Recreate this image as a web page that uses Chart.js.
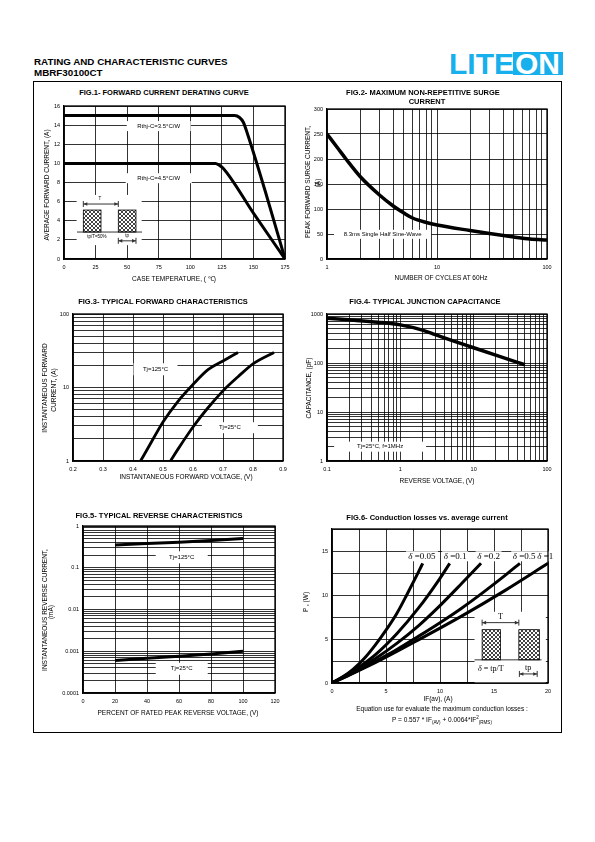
<!DOCTYPE html>
<html>
<head>
<meta charset="utf-8">
<script src="https://cdn.jsdelivr.net/npm/chart.js@4.4.0/dist/chart.umd.min.js"></script>
<style>
body { margin: 0; width: 595px; height: 842px; position: relative; background: #fff; color: #000;
       font-family: "Liberation Sans", Arial, sans-serif; overflow: hidden; }
.abs { position: absolute; white-space: nowrap; }
sub, sup { font-size: 70%; line-height: 0; }
</style>
</head>
<body>
<div class="abs" style="left:33px;top:81px;width:527px;height:650px;border:1.5px solid #000"></div>
<div class="abs" style="left:449px;top:49px;font:bold 30px 'Liberation Sans',Arial;line-height:30px;color:#18b0ec">LITE</div>
<div class="abs" style="left:513px;top:52px;width:50px;height:23px;background:#18b0ec"></div>
<div class="abs" style="left:515px;top:49px;font:bold 30px 'Liberation Sans',Arial;line-height:30px;color:#fff">ON</div>
<script>
// ---- FIG.1 forward current derating ----
var fig1XTicks = [0, 25, 50, 75, 100, 125, 150, 175];
var fig1YTicks = [0, 2, 4, 6, 8, 10, 12, 14, 16];
var fig1Temp35 = [0, 135, 139, 142, 145, 160, 175];
var fig1Amp35 = [15, 15, 14.8, 14.3, 13.2, 6.8, 0];
var fig1Temp45 = [0, 120, 123, 126, 150, 175];
var fig1Amp45 = [10, 10, 9.8, 9.5, 4.8, 0];

// ---- FIG.2 surge current ----
var fig2XTicks = [1, 10, 100];
var fig2YTicks = [0, 50, 100, 150, 200, 250, 300];
var fig2Cycles = [1, 1.25, 1.5, 2, 3, 4, 5, 6, 8, 10, 20, 30, 50, 70, 100];
var fig2Surge = [250, 222, 199, 165, 128, 106, 92, 82, 73, 68, 57, 51, 44, 40, 38];

// ---- FIG.3 forward characteristics ----
var fig3XTicks = [0.2, 0.3, 0.4, 0.5, 0.6, 0.7, 0.8, 0.9];
var fig3YTicks = [1, 10, 100];
var fig3VoltHot = [0.425, 0.45, 0.5, 0.55, 0.6, 0.65, 0.7, 0.75];
var fig3AmpHot = [1, 1.5, 3.4, 6.5, 11, 17.5, 23, 30];
var fig3VoltCold = [0.525, 0.55, 0.6, 0.65, 0.7, 0.75, 0.8, 0.87];
var fig3AmpCold = [1, 1.45, 2.9, 5.3, 9, 14, 21, 30];

// ---- FIG.4 junction capacitance ----
var fig4XTicks = [0.1, 1, 10, 100];
var fig4YTicks = [1, 10, 100, 1000];
var fig4Volt = [0.1, 0.2, 0.5, 1, 2, 3, 5, 10, 20, 50];
var fig4Cap = [820, 760, 680, 600, 470, 380, 290, 205, 145, 92];

// ---- FIG.5 reverse characteristics ----
var fig5XTicks = [0, 20, 40, 60, 80, 100, 120];
var fig5YTicks = [0.0001, 0.001, 0.01, 0.1, 1];
var fig5YLabels = ['0.0001', '0.001', '0.01', '0.1', '1'];
var fig5Pct = [20, 40, 60, 80, 100];
var fig5Hot = [0.35, 0.38, 0.41, 0.45, 0.5];
var fig5Cold = [0.0006, 0.00068, 0.00076, 0.00086, 0.001];

// ---- FIG.6 conduction losses ----
var fig6XTicks = [0, 5, 10, 15, 20];
var fig6XGrid = [0, 2.5, 5, 7.5, 10, 12.5, 15, 17.5, 20];
var fig6YTicks = [0, 5, 10, 15];
var fig6YGrid = [0, 2.5, 5, 7.5, 10, 12.5, 15, 17.5];
var fig6Amp005 = [0, 1, 2, 3, 4, 5, 6, 7, 8, 8.4];
var fig6P005 = [0, 0.7, 1.6, 2.8, 4.3, 6.0, 7.9, 10.2, 12.6, 13.6];
var fig6Amp01 = [0, 2, 4, 6, 8, 10, 10.9];
var fig6P01 = [0, 1.4, 3.2, 5.6, 8.5, 11.9, 13.6];
var fig6Amp02 = [0, 2, 4, 6, 8, 10, 12, 13.8];
var fig6P02 = [0, 1.25, 2.75, 4.5, 6.5, 8.8, 11.3, 13.6];
var fig6Amp05 = [0, 2, 4, 6, 8, 10, 12, 14, 16, 17.4];
var fig6P05 = [0, 1.15, 2.45, 3.8, 5.3, 6.85, 8.5, 10.3, 12.2, 13.6];
var fig6Amp1 = [0, 4, 8, 12, 16, 20];
var fig6P1 = [0, 2.3, 4.9, 7.6, 10.5, 13.6];

var FONT = '"Liberation Sans", Arial, sans-serif';
var SERIF = '"Liberation Serif", "Times New Roman", serif';
Chart.defaults.font.family = FONT;
Chart.defaults.color = '#000';

var ML = 40, MT = 8, MR = 14, MB = 18;

function pairs(xs, ys) {
  return xs.map(function (x, i) { return { x: x, y: ys[i] }; });
}

function logGrid(min, max) {
  var out = [];
  for (var d = Math.round(Math.log10(min)); d < Math.round(Math.log10(max)); d++) {
    for (var m = 1; m < 10; m++) out.push(m * Math.pow(10, d));
  }
  out.push(max);
  return out;
}

function near(a, b) { return Math.abs(a - b) <= Math.abs(b) * 1e-6 + 1e-12; }

function axis(pos, o) {
  var horiz = pos === 'x';
  var labels = o.labels || o.major.map(String);
  return {
    type: o.log ? 'logarithmic' : 'linear',
    position: horiz ? 'bottom' : 'left',
    min: o.min, max: o.max,
    afterBuildTicks: function (s) { s.ticks = o.grid.map(function (v) { return { value: v }; }); },
    afterFit: function (s) { if (horiz) s.height = MB; else s.width = ML; },
    ticks: {
      autoSkip: false, maxRotation: 0, minRotation: 0,
      padding: horiz ? 5 : 4,
      color: '#000', font: { family: FONT, size: 5.5 },
      callback: function (v) {
        for (var i = 0; i < o.major.length; i++) if (near(v, o.major[i])) return labels[i];
        return '';
      }
    },
    grid: { color: '#000', lineWidth: 0.8, drawTicks: false },
    border: { color: '#000', width: 1.2 }
  };
}

function line(data, w, smooth) {
  return {
    data: data, showLine: true, borderColor: '#000', borderWidth: w,
    pointRadius: 0, fill: false,
    cubicInterpolationMode: smooth ? 'monotone' : 'default', tension: 0
  };
}

var hatchCanvas = document.createElement('canvas');
hatchCanvas.width = hatchCanvas.height = 4;
(function () {
  var p = hatchCanvas.getContext('2d');
  p.fillStyle = '#fff'; p.fillRect(0, 0, 4, 4);
  p.fillStyle = '#444';
  for (var i = 0; i < 4; i++) { p.fillRect(i, i, 1, 1); p.fillRect(3 - i, i, 1, 1); }
})();

function arrowH(ctx, x0, x1, y, tick) {
  ctx.beginPath(); ctx.moveTo(x0, y); ctx.lineTo(x1, y);
  ctx.moveTo(x0, y - tick); ctx.lineTo(x0, y + tick);
  ctx.moveTo(x1, y - tick); ctx.lineTo(x1, y + tick); ctx.stroke();
  ctx.beginPath(); ctx.moveTo(x0, y); ctx.lineTo(x0 + 4, y - 1.8); ctx.lineTo(x0 + 4, y + 1.8); ctx.closePath(); ctx.fill();
  ctx.beginPath(); ctx.moveTo(x1, y); ctx.lineTo(x1 - 4, y - 1.8); ctx.lineTo(x1 - 4, y + 1.8); ctx.closePath(); ctx.fill();
}

function deltaText(ctx, text, x, y, size) {
  // italic delta followed by upright text, centred on x
  ctx.font = 'italic ' + size + 'px ' + SERIF;
  var wd = ctx.measureText('\u03b4').width;
  ctx.font = size + 'px ' + SERIF;
  var wr = ctx.measureText(text).width;
  var x0 = x - (wd + wr) / 2;
  ctx.textAlign = 'left';
  ctx.font = 'italic ' + size + 'px ' + SERIF;
  ctx.fillText('\u03b4', x0, y);
  ctx.font = size + 'px ' + SERIF;
  ctx.fillText(text, x0 + wd, y);
  return wd + wr;
}

function drawInset(chart, s) {
  var ctx = chart.ctx, xs = chart.scales.x, ys = chart.scales.y;
  var X = function (v) { return xs.getPixelForValue(v); };
  var Y = function (v) { return ys.getPixelForValue(v); };
  ctx.save();
  ctx.fillStyle = '#fff';
  ctx.fillRect(X(s.box[0]), Y(s.box[3]), X(s.box[1]) - X(s.box[0]), Y(s.box[2]) - Y(s.box[3]));
  var hatch = ctx.createPattern(hatchCanvas, 'repeat');
  ctx.strokeStyle = '#000'; ctx.lineWidth = 0.8;
  s.pulses.forEach(function (p) {
    var x0 = X(p[0]), x1 = X(p[1]), y0 = Y(s.top), y1 = Y(s.base);
    ctx.fillStyle = hatch; ctx.fillRect(x0, y0, x1 - x0, y1 - y0);
    ctx.strokeRect(x0, y0, x1 - x0, y1 - y0);
  });
  ctx.beginPath(); ctx.moveTo(X(s.baseX[0]), Y(s.base)); ctx.lineTo(X(s.baseX[1]), Y(s.base)); ctx.stroke();
  ctx.strokeStyle = '#333'; ctx.fillStyle = '#333'; ctx.lineWidth = 1;
  arrowH(ctx, X(s.pulses[0][0]), X(s.pulses[1][0]), Y(s.tY), 3);
  arrowH(ctx, X(s.tpX[0]), X(s.tpX[1]), Y(s.tpY), 3);
  ctx.fillStyle = '#000'; ctx.textBaseline = 'middle'; ctx.textAlign = 'center';
  ctx.font = s.size + 'px ' + s.family;
  ctx.fillText('T', X(s.tLabel[0]), Y(s.tLabel[1]));
  ctx.fillText('tp', X(s.tpLabel[0]), Y(s.tpLabel[1]));
  if (s.delta) {
    deltaText(ctx, ' = tp/T', X(s.ratio[0]), Y(s.ratio[1]), s.size);
  } else {
    ctx.fillText(s.ratioText, X(s.ratio[0]), Y(s.ratio[1]));
  }
  ctx.restore();
}

function notesPlugin(notes, inset, deltas) {
  return {
    id: 'notes',
    beforeDatasetsDraw: function (chart) {
      var ctx = chart.ctx, xs = chart.scales.x, ys = chart.scales.y;
      ctx.save();
      (notes || []).forEach(function (n) {
        var cx = xs.getPixelForValue(n.x), cy = ys.getPixelForValue(n.y);
        ctx.fillStyle = '#fff';
        ctx.fillRect(cx - n.w / 2, cy - n.h / 2, n.w, n.h);
        ctx.fillStyle = '#000';
        ctx.font = '6px ' + FONT;
        ctx.textAlign = 'center'; ctx.textBaseline = 'middle';
        ctx.fillText(n.text, cx, cy);
      });
      (deltas || []).forEach(function (d) {
        var cx = xs.getPixelForValue(d.x), cy = ys.getPixelForValue(d.y);
        ctx.fillStyle = '#fff';
        ctx.fillRect(cx - d.w / 2, cy - 5, d.w, 10);
        ctx.fillStyle = '#000'; ctx.textBaseline = 'middle';
        deltaText(ctx, d.text, cx, cy, 9);
      });
      ctx.restore();
      if (inset) drawInset(chart, inset);
    },
    afterDraw: function (chart) {
      var a = chart.chartArea, ctx = chart.ctx;
      ctx.save(); ctx.strokeStyle = '#000'; ctx.lineWidth = 1.3;
      ctx.strokeRect(a.left, a.top, a.right - a.left, a.bottom - a.top);
      ctx.restore();
    }
  };
}

function makeChart(area, datasets, xAxis, yAxis, plugin) {
  var cv = document.createElement('canvas');
  var w = area[2] - area[0], h = area[3] - area[1];
  cv.width = w + ML + MR; cv.height = h + MT + MB;
  cv.style.cssText = 'position:absolute;left:' + (area[0] - ML) + 'px;top:' + (area[1] - MT) +
    'px;width:' + cv.width + 'px;height:' + cv.height + 'px';
  document.body.appendChild(cv);
  return new Chart(cv, {
    type: 'scatter',
    data: { datasets: datasets },
    options: {
      responsive: false, animation: false, devicePixelRatio: 1, events: [],
      layout: { padding: { left: 0, top: MT, right: MR, bottom: 0 } },
      plugins: { legend: { display: false }, tooltip: { enabled: false } },
      scales: { x: axis('x', xAxis), y: axis('y', yAxis) }
    },
    plugins: [plugin]
  });
}

function addText(html, cx, cy, size, opt) {
  opt = opt || {};
  var d = document.createElement('div');
  d.className = 'abs';
  d.innerHTML = html;
  d.style.left = cx + 'px'; d.style.top = cy + 'px';
  d.style.fontSize = size + 'px'; d.style.lineHeight = size + 'px';
  d.style.fontWeight = opt.bold ? 'bold' : 'normal';
  d.style.transform = (opt.left ? 'translate(0,-50%)' : 'translate(-50%,-50%)') + (opt.rot ? ' rotate(-90deg)' : '');
  document.body.appendChild(d);
}

// ---------- charts ----------
makeChart([64, 106, 285, 259],
  [line(pairs(fig1Temp35, fig1Amp35), 3, true), line(pairs(fig1Temp45, fig1Amp45), 3, true)],
  { min: 0, max: 175, grid: fig1XTicks, major: fig1XTicks },
  { min: 0, max: 16, grid: fig1YTicks, major: fig1YTicks },
  notesPlugin([
    { x: 75, y: 13.9, w: 64, h: 10, text: 'Rthj-C=3.5\u00b0C/W' },
    { x: 75, y: 8.45, w: 66, h: 10, text: 'Rthj-C=4.5\u00b0C/W' }
  ], {
    box: [10, 61.5, 1.45, 6.7], base: 2.82, baseX: [10.3, 61.8],
    pulses: [[15.3, 29.3], [43, 57]], top: 5.12, tY: 5.75, tLabel: [28.5, 6.25],
    tpX: [43, 57], tpY: 1.9, tpLabel: [50, 2.4], ratio: [26, 2.3], ratioText: 'tp/T=50%',
    size: 4.5, family: FONT
  }));

makeChart([327, 109, 547, 259],
  [line(pairs(fig2Cycles, fig2Surge), 3.5, true)],
  { log: true, min: 1, max: 100, grid: logGrid(1, 100), major: fig2XTicks },
  { min: 0, max: 300, grid: fig2YTicks, major: fig2YTicks },
  notesPlugin([{ x: 3.2, y: 49.4, w: 97, h: 9, text: '8.3ms Single Half Sine-Wave' }]));

makeChart([73, 314, 283, 461],
  [line(pairs(fig3VoltHot, fig3AmpHot), 2.8, true), line(pairs(fig3VoltCold, fig3AmpCold), 2.8, true)],
  { min: 0.2, max: 0.9, grid: fig3XTicks, major: fig3XTicks },
  { log: true, min: 1, max: 100, grid: logGrid(1, 100), major: fig3YTicks },
  notesPlugin([
    { x: 0.475, y: 17.7, w: 44, h: 12, text: 'Tj=125\u00b0C' },
    { x: 0.723, y: 2.84, w: 56, h: 11, text: 'Tj=25\u00b0C' }
  ]));

makeChart([327, 314, 547, 461],
  [line(pairs(fig4Volt, fig4Cap), 3.5, true)],
  { log: true, min: 0.1, max: 100, grid: logGrid(0.1, 100), major: fig4XTicks },
  { log: true, min: 1, max: 1000, grid: logGrid(1, 1000), major: fig4YTicks },
  notesPlugin([{ x: 0.53, y: 1.96, w: 92, h: 10, text: 'Tj=25\u00b0C, f=1MHz' }]));

makeChart([83, 526, 275, 693],
  [line(pairs(fig5Pct, fig5Hot), 3, false), line(pairs(fig5Pct, fig5Cold), 3, false)],
  { min: 0, max: 120, grid: fig5XTicks, major: fig5XTicks },
  { log: true, min: 0.0001, max: 1, grid: logGrid(0.0001, 1), major: fig5YTicks, labels: fig5YLabels },
  notesPlugin([
    { x: 61.7, y: 0.178, w: 52, h: 12, text: 'Tj=125\u00b0C' },
    { x: 61.7, y: 0.00038, w: 52, h: 12, text: 'Tj=25\u00b0C' }
  ]));

makeChart([332, 529, 548, 683],
  [line(pairs(fig6Amp005, fig6P005), 3, true), line(pairs(fig6Amp01, fig6P01), 3, true),
   line(pairs(fig6Amp02, fig6P02), 3, true), line(pairs(fig6Amp05, fig6P05), 3, true),
   line(pairs(fig6Amp1, fig6P1), 3, true)],
  { min: 0, max: 20, grid: fig6XGrid, major: fig6XTicks },
  { min: 0, max: 17.5, grid: fig6YGrid, major: fig6YTicks },
  notesPlugin(null, {
    box: [13.2, 19.8, 0, 8.1], base: 2.63, baseX: [13.2, 19.4],
    pulses: [[13.9, 15.6], [17.3, 19.2]], top: 6.06, tY: 6.86, tLabel: [15.6, 7.5],
    tpX: [17.35, 19.0], tpY: 1.03, tpLabel: [18.15, 1.75], ratio: [14.7, 1.6], delta: true,
    size: 8, family: SERIF
  }, [
    { x: 8.33, y: 14.4, w: 32, text: ' =0.05' },
    { x: 11.4, y: 14.4, w: 26, text: ' =0.1' },
    { x: 14.5, y: 14.4, w: 26, text: ' =0.2' },
    { x: 17.8, y: 14.4, w: 26, text: ' =0.5' },
    { x: 19.75, y: 14.4, w: 16, text: ' =1' }
  ]));

// ---------- texts ----------
addText('RATING AND CHARACTERISTIC CURVES', 34, 62, 9.8, { bold: true, left: true });
addText('MBRF30100CT', 34, 72.5, 9.8, { bold: true, left: true });

addText('FIG.1- FORWARD CURRENT DERATING CURVE', 164, 93, 7.5, { bold: true });
addText('FIG.2- MAXIMUM NON-REPETITIVE SURGE', 423, 92.5, 7.5, { bold: true });
addText('CURRENT', 427, 102, 7.5, { bold: true });
addText('FIG.3- TYPICAL FORWARD CHARACTERISTICS', 163, 302, 7.5, { bold: true });
addText('FIG.4- TYPICAL JUNCTION CAPACITANCE', 425, 302, 7.5, { bold: true });
addText('FIG.5- TYPICAL REVERSE CHARACTERISTICS', 159, 515.5, 7.5, { bold: true });
addText('FIG.6- Conduction losses vs. average current', 427, 517.5, 7.5, { bold: true });

addText('CASE TEMPERATURE, ( \u2103)', 174, 278.5, 6.5);
addText('NUMBER OF CYCLES AT 60Hz', 441, 278, 6.5);
addText('INSTANTANEOUS FORWARD VOLTAGE, (V)', 186, 477, 6.5);
addText('REVERSE VOLTAGE, (V)', 437, 480.5, 6.5);
addText('PERCENT OF RATED PEAK REVERSE VOLTAGE, (V)', 178, 712.5, 6.5);
addText('IF(av), (A)', 438, 698.5, 6.5);
addText('Equation use for evaluate the maximum conduction losses :', 442, 708.5, 6.5);
addText('P = 0.557 * IF<sub>(AV)</sub> + 0.0064*IF<sup>2</sup><sub>(RMS)</sub>', 442, 720, 6.5);

addText('AVERAGE FORWARD CURRENT, (A)', 47, 185, 6.5, { rot: true });
addText('PEAK FORWARD SURGE CURRENT,', 308, 182, 6.5, { rot: true });
addText('(A)', 317.5, 183, 6.5, { rot: true });
addText('INSTANTANEOUS FORWARD', 45, 388, 6.5, { rot: true });
addText('CURRENT, (A)', 53.5, 390, 6.5, { rot: true });
addText('CAPACITANCE, (pF)', 308.5, 388, 6.5, { rot: true });
addText('INSTANTANEOUS REVERSE CURRENT,', 45, 610, 6.5, { rot: true });
addText('(mA)', 51, 612, 6.5, { rot: true });
addText('P , (W)', 306, 602, 6.5, { rot: true });
</script>
</body>
</html>
